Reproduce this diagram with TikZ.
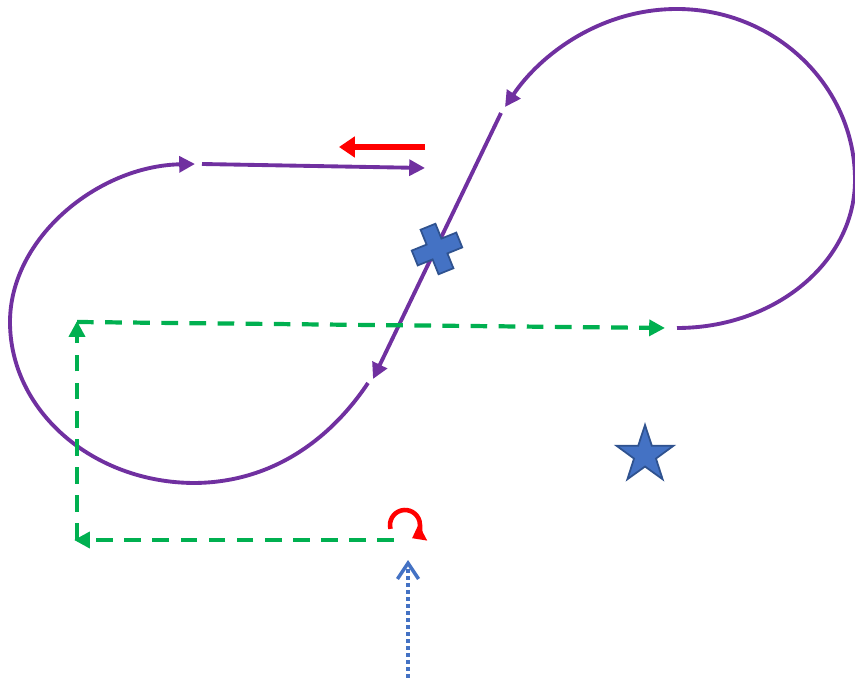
\documentclass[tikz,border=0pt]{standalone}
\usepackage{xcolor}
\definecolor{loopviolet}{RGB}{112,48,160}
\definecolor{routegreen}{RGB}{0,176,80}
\definecolor{markblue}{RGB}{68,114,196}
\definecolor{markedge}{RGB}{47,82,143}
\usepackage{tikz}
\usetikzlibrary{arrows.meta, shapes.geometric}

\begin{document}
\begin{tikzpicture}[x=0.02cm, y=-0.02cm,
  loopline/.style={draw=loopviolet, line width=2.2pt, -{Triangle[length=9pt,width=9pt]}},
  routeline/.style={draw=routegreen, line width=2.4pt, dash pattern=on 9.5pt off 6.5pt, -{Triangle[length=9pt,width=9pt]}},
  pushline/.style={draw=red, line width=3.8pt, -{Triangle[length=9pt,width=11.5pt]}},
  turnline/.style={draw=red, line width=2.6pt, -{Triangle[length=7pt,width=10pt]}},
  probeline/.style={draw=markblue, line width=2pt, dash pattern=on 2pt off 2pt, -{Straight Barb[length=9pt,width=12pt]}},
  starmark/.style={star, star points=5, star point ratio=2.6, minimum size=1.2cm, inner sep=0pt,
                   fill=markblue, draw=markedge, line width=1pt}]
\useasboundingbox (0,0) rectangle (855,678);

% points of the figure-eight
\coordinate (lowA) at (368,383);
\coordinate (topA) at (195,164);
\coordinate (barS) at (202,164);
\coordinate (barE) at (425,168);
\coordinate (diagS) at (501,113);
\coordinate (diagE) at (373,379);
\coordinate (lowB) at (677,328);
\coordinate (topB) at (505,107);

% left loop
\draw[loopline] (lowA) .. controls (340,425) and (285,482) .. (195,483)
  .. controls (93,483) and (10,411) .. (10,322)
  .. controls (10,238) and (98,166) .. (topA);
\draw[loopline] (barS) -- (barE);
\draw[loopline] (diagS) -- (diagE);
% right loop
\draw[loopline] (lowB) .. controls (775,328) and (855,262) .. (855,180)
  .. controls (855,86) and (775,9) .. (677,9)
  .. controls (600,9) and (540,55) .. (topB);

% cross on the crossing
\filldraw[fill=markblue, draw=markedge, line width=1pt, shift={(437,249)}, rotate=22]
  (-8,-24) -- (8,-24) -- (8,-8) -- (24,-8) -- (24,8) -- (8,8) -- (8,24)
  -- (-8,24) -- (-8,8) -- (-24,8) -- (-24,-8) -- (-8,-8) -- cycle;

% red push arrow
\coordinate (pushS) at (425,147);
\coordinate (pushE) at (339,147);
\draw[pushline] (pushS) -- (pushE);

% green route
\coordinate (r0) at (394,540);
\coordinate (r1) at (74,540);
\coordinate (r2) at (77,321);
\coordinate (r3) at (665,328);
\draw[routeline] (r0) -- (r1);
\draw[routeline] (77,540) -- (r2);
\draw[routeline] (77,322) -- (r3);

% turn marker
\coordinate (turnc) at (405,525);
\draw[turnline] ([shift={(195:0.3cm)}]turnc) arc[start angle=195, end angle=-62, radius=0.3cm];

% blue probe
\coordinate (probeS) at (408,678);
\coordinate (probeE) at (408,560);
\draw[probeline] (probeS) -- (probeE);

\node[starmark] (star) at (645,455) {};
\end{tikzpicture}
\end{document}
